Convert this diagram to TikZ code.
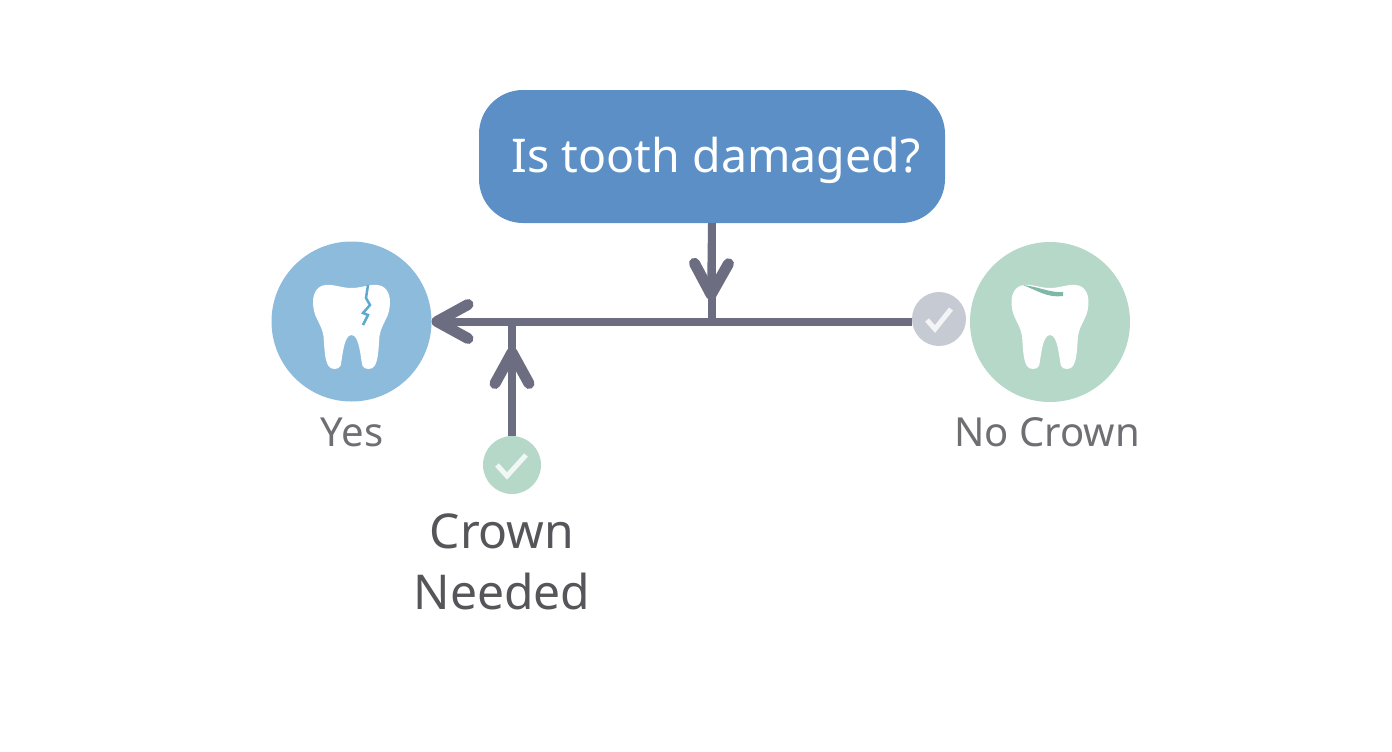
\documentclass[tikz,border=0pt]{standalone}
\usepackage{fontspec}
\setmainfont{Noto Sans}
\usetikzlibrary{arrows.meta}
\definecolor{askblue}{HTML}{5B8FC6}
\definecolor{yesblue}{HTML}{8DBBDC}
\definecolor{nogreen}{HTML}{B5D8C9}
\definecolor{checkgrey}{HTML}{C6CAD3}
\definecolor{linegrey}{HTML}{6D6D82}
\definecolor{crackblue}{HTML}{5EA9CF}
\definecolor{enamel}{HTML}{7FB8A8}
\definecolor{textgrey}{HTML}{55555A}
\tikzset{
  askbox/.style={fill=askblue, text=white, rounded corners=44pt, minimum width=466pt, minimum height=133pt, font=\fontsize{46.5}{56}\selectfont},
  toothdisc/.style={circle, minimum size=160pt, inner sep=0pt, outer sep=0pt},
  checkdisc/.style={circle, inner sep=0pt, outer sep=0pt},
  flowline/.style={draw=linegrey, line width=8pt},
  flowarrow/.style={flowline, -{Straight Barb[round, length=31pt, width=34pt, line width=11pt]}},
  small label/.style={text=textgrey!85, font=\fontsize{40}{46}\selectfont},
  big label/.style={text=textgrey, align=center, font=\fontsize{48}{61}\selectfont},
  checkmark/.style={draw=white, line width=5pt, opacity=0.8},
  tooth/.pic={
    \fill[white] (0,-34) .. controls (10,-34) and (18,-38) .. (26,-37)
      .. controls (36,-36) and (40,-26) .. (38,-14)
      .. controls (37,-4) and (30,2) .. (28,14)
      .. controls (27,26) and (27,38) .. (23,44)
      .. controls (21,48) and (13,48) .. (11,44)
      .. controls (9,36) and (8,13) .. (0,13)
      .. controls (-8,13) and (-9,36) .. (-11,44)
      .. controls (-13,48) and (-21,48) .. (-23,44)
      .. controls (-27,38) and (-27,26) .. (-28,14)
      .. controls (-30,2) and (-37,-4) .. (-38,-14)
      .. controls (-40,-26) and (-36,-36) .. (-26,-37)
      .. controls (-18,-38) and (-10,-34) .. (0,-34) -- cycle;
  }
}
\begin{document}
\begin{tikzpicture}[x=1pt, y=-1pt]
  \useasboundingbox (0,0) rectangle (1392,752);

  % Question
  \node[askbox, text depth=0pt] (ask) at (712,156.5) {\hspace*{8pt}\raisebox{4pt}{Is tooth damaged?}};

  % Outcomes
  \node[toothdisc, fill=yesblue] (yes) at (351.5,321.5) {};
  \node[toothdisc, fill=nogreen] (no) at (1050,322) {};
  \node[checkdisc, fill=checkgrey, minimum size=54pt] (nocheck) at (939,319) {};
  \node[checkdisc, fill=nogreen, minimum size=58pt] (crowncheck) at (512,465) {};

  % Teeth
  \pic at (351.5,322) {tooth};
  \pic at (1050,322) {tooth};
  \draw[crackblue, line width=2.5pt] (368,285) -- (366,298) -- (370,305) -- (363,313) -- (368,315) -- (363,325);
  \fill[enamel] (1023,285) .. controls (1040,287) and (1050,293) .. (1063,292) -- (1063,296) .. controls (1048,298) and (1038,291) .. (1023,285) -- cycle;

  % Connectors
  \coordinate (joindown) at (ask.south |- yes);
  \coordinate (tipdown) at (711,300);
  \coordinate (joinup) at (crowncheck.north |- yes);
  \coordinate (tipup) at (512,347);
  \draw[flowarrow] (yes.east -| nocheck.west) -- (yes.east);
  \draw[flowline] (ask.south) -- (joindown);
  \draw[flowarrow] (ask.south) -- (tipdown);
  \draw[flowline] (crowncheck.north) -- (joinup);
  \draw[flowarrow] (crowncheck.north) -- (tipup);

  % Check marks
  \draw[checkmark] (927,320) -- (935,329) -- (951,309);
  \draw[checkmark] (497,465) -- (507,476) -- (526,455);

  % Labels
  \node[small label] (yeslabel) at (352,432) {Yes};
  \node[small label] (nolabel) at (1047,432) {No Crown};
  \node[big label] (crownlabel) at (502,562) {Crown\\Needed};
\end{tikzpicture}
\end{document}
